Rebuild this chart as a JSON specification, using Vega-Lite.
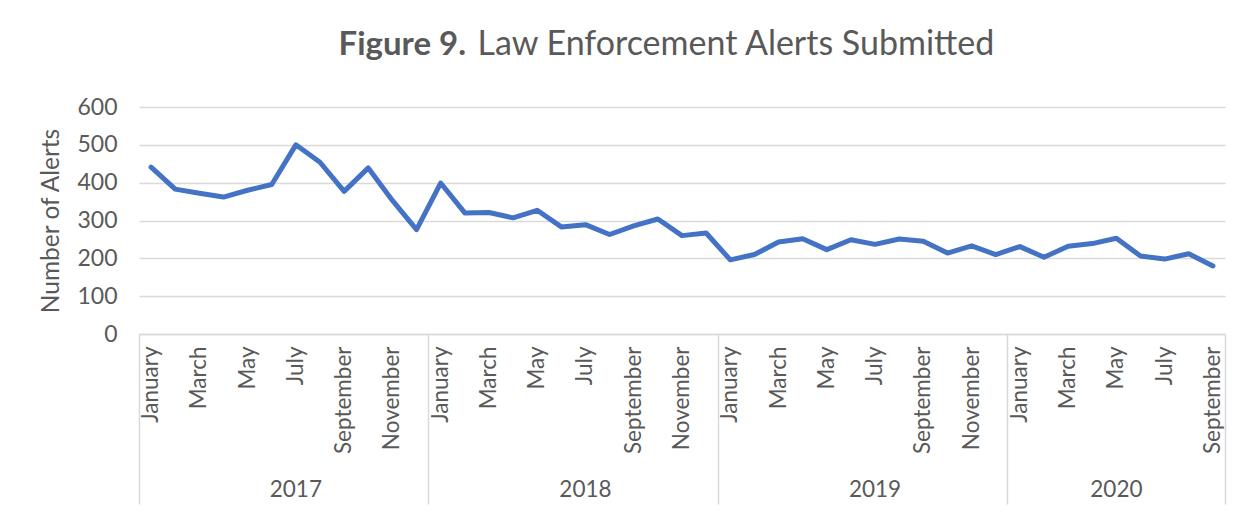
{
  "$schema": "https://vega.github.io/schema/vega-lite/v6.json",
  "autosize": "none",
  "width": 1086,
  "height": 227,
  "padding": {"left": 139, "top": 107, "right": 25, "bottom": 178},
  "background": "white",
  "data": {
    "values": [
      {"month": "2017-01", "alerts": 441},
      {"month": "2017-02", "alerts": 383},
      {"month": "2017-03", "alerts": 372},
      {"month": "2017-04", "alerts": 362},
      {"month": "2017-05", "alerts": 380},
      {"month": "2017-06", "alerts": 395},
      {"month": "2017-07", "alerts": 500},
      {"month": "2017-08", "alerts": 454},
      {"month": "2017-09", "alerts": 377},
      {"month": "2017-10", "alerts": 439},
      {"month": "2017-11", "alerts": 353},
      {"month": "2017-12", "alerts": 276},
      {"month": "2018-01", "alerts": 399},
      {"month": "2018-02", "alerts": 320},
      {"month": "2018-03", "alerts": 321},
      {"month": "2018-04", "alerts": 307},
      {"month": "2018-05", "alerts": 327},
      {"month": "2018-06", "alerts": 283},
      {"month": "2018-07", "alerts": 289},
      {"month": "2018-08", "alerts": 263},
      {"month": "2018-09", "alerts": 286},
      {"month": "2018-10", "alerts": 304},
      {"month": "2018-11", "alerts": 260},
      {"month": "2018-12", "alerts": 267},
      {"month": "2019-01", "alerts": 196},
      {"month": "2019-02", "alerts": 210},
      {"month": "2019-03", "alerts": 243},
      {"month": "2019-04", "alerts": 252},
      {"month": "2019-05", "alerts": 223},
      {"month": "2019-06", "alerts": 249},
      {"month": "2019-07", "alerts": 237},
      {"month": "2019-08", "alerts": 251},
      {"month": "2019-09", "alerts": 245},
      {"month": "2019-10", "alerts": 214},
      {"month": "2019-11", "alerts": 233},
      {"month": "2019-12", "alerts": 210},
      {"month": "2020-01", "alerts": 231},
      {"month": "2020-02", "alerts": 203},
      {"month": "2020-03", "alerts": 232},
      {"month": "2020-04", "alerts": 239},
      {"month": "2020-05", "alerts": 253},
      {"month": "2020-06", "alerts": 206},
      {"month": "2020-07", "alerts": 198},
      {"month": "2020-08", "alerts": 212},
      {"month": "2020-09", "alerts": 180}
    ]
  },
  "encoding": {
    "y": {
      "field": "alerts",
      "type": "quantitative",
      "scale": {"domain": [0, 600]},
      "axis": {
        "values": [0, 100, 200, 300, 400, 500, 600],
        "title": "Number of Alerts",
        "titleFont": "Lato",
        "titleFontSize": 24.5,
        "titleFontWeight": "normal",
        "titleColor": "#595959",
        "titlePadding": 13,
        "labelFont": "Lato",
        "labelFontSize": 23,
        "labelColor": "#595959",
        "labelPadding": 22,
        "ticks": false,
        "domain": false,
        "grid": true,
        "gridColor": "#d9d9d9",
        "gridWidth": 1.5
      }
    }
  },
  "layer": [
    {
      "mark": {"type": "line", "color": "#4472C4", "strokeWidth": 5, "strokeCap": "round", "strokeJoin": "round"},
      "encoding": {
        "x": {
          "field": "month",
          "type": "ordinal",
          "scale": {"type": "band", "paddingInner": 0, "paddingOuter": 0},
          "axis": {
            "orient": "bottom",
            "values": ["2017-01","2017-03","2017-05","2017-07","2017-09","2017-11","2018-01","2018-03","2018-05","2018-07","2018-09","2018-11","2019-01","2019-03","2019-05","2019-07","2019-09","2019-11","2020-01","2020-03","2020-05","2020-07","2020-09"],
            "labelExpr": "utcFormat(toDate(datum.value + '-15'), '%B')",
            "labelAngle": -90,
            "labelAlign": "right",
            "labelBaseline": "middle",
            "labelPadding": 12,
            "labelFont": "Lato",
            "labelFontSize": 22.5,
            "labelColor": "#595959",
            "ticks": false,
            "domain": true,
            "domainColor": "#d9d9d9",
            "domainWidth": 1.5,
            "grid": false,
            "title": null
          }
        }
      }
    },
    {
      "mark": {"type": "line", "opacity": 0},
      "encoding": {
        "x": {
          "field": "month",
          "type": "ordinal",
          "scale": {"type": "band", "paddingInner": 0, "paddingOuter": 0},
          "axis": {
            "orient": "top",
            "labels": false,
            "ticks": false,
            "domain": false,
            "grid": false,
            "title": "Figure 9.",
            "titleFont": "Lato",
            "titleFontSize": 33,
            "titleFontWeight": "bold",
            "titleColor": "#595959",
            "titleAnchor": "start",
            "titleAlign": "left",
            "titleBaseline": "alphabetic",
            "titleX": 199,
            "titleY": -53
          }
        }
      }
    },
    {
      "mark": {"type": "line", "opacity": 0},
      "encoding": {
        "x": {
          "field": "month",
          "type": "ordinal",
          "scale": {"type": "band", "paddingInner": 0, "paddingOuter": 0},
          "axis": {
            "orient": "top",
            "labels": false,
            "ticks": false,
            "domain": false,
            "grid": false,
            "title": "Law Enforcement Alerts Submitted",
            "titleFont": "Lato",
            "titleFontSize": 34,
            "titleFontWeight": "normal",
            "titleColor": "#595959",
            "titleAnchor": "start",
            "titleAlign": "left",
            "titleBaseline": "alphabetic",
            "titleX": 338,
            "titleY": -53
          }
        }
      }
    },
    {
      "mark": {"type": "line", "opacity": 0},
      "encoding": {
        "x": {
          "field": "month",
          "type": "ordinal",
          "scale": {"type": "band", "paddingInner": 0, "paddingOuter": 0},
          "axis": {
            "orient": "bottom",
            "values": ["2017-01", "2018-01", "2019-01", "2020-01"],
            "bandPosition": 0,
            "ticks": true,
            "tickSize": 170,
            "tickColor": "#d9d9d9",
            "tickWidth": 1.5,
            "labels": false,
            "domain": false,
            "grid": false,
            "title": null
          }
        }
      }
    },
    {
      "mark": {"type": "line", "opacity": 0},
      "encoding": {
        "x": {
          "field": "month",
          "type": "ordinal",
          "scale": {"type": "band", "paddingInner": 0, "paddingOuter": 0},
          "axis": {
            "orient": "bottom",
            "values": ["2020-09"],
            "bandPosition": 1,
            "ticks": true,
            "tickSize": 170,
            "tickColor": "#d9d9d9",
            "tickWidth": 1.5,
            "labels": false,
            "domain": false,
            "grid": false,
            "title": null
          }
        }
      }
    },
    {
      "mark": {"type": "line", "opacity": 0},
      "encoding": {
        "x": {
          "field": "month",
          "type": "ordinal",
          "scale": {"type": "band", "paddingInner": 0, "paddingOuter": 0},
          "axis": {
            "orient": "bottom",
            "values": ["2017-07", "2018-07", "2019-07"],
            "bandPosition": 0,
            "labelExpr": "slice(datum.value, 0, 4)",
            "labelAngle": 0,
            "labelAlign": "center",
            "labelBaseline": "top",
            "labelPadding": 144,
            "labelFont": "Lato",
            "labelFontSize": 22.5,
            "labelColor": "#595959",
            "ticks": false,
            "domain": false,
            "grid": false,
            "title": null
          }
        }
      }
    },
    {
      "mark": {"type": "line", "opacity": 0},
      "encoding": {
        "x": {
          "field": "month",
          "type": "ordinal",
          "scale": {"type": "band", "paddingInner": 0, "paddingOuter": 0},
          "axis": {
            "orient": "bottom",
            "values": ["2020-05"],
            "bandPosition": 0.5,
            "labelExpr": "slice(datum.value, 0, 4)",
            "labelAngle": 0,
            "labelAlign": "center",
            "labelBaseline": "top",
            "labelPadding": 144,
            "labelFont": "Lato",
            "labelFontSize": 22.5,
            "labelColor": "#595959",
            "ticks": false,
            "domain": false,
            "grid": false,
            "title": null
          }
        }
      }
    }
  ],
  "resolve": {"axis": {"x": "independent"}},
  "config": {
    "view": {"stroke": null},
    "font": "Lato"
  }
}
